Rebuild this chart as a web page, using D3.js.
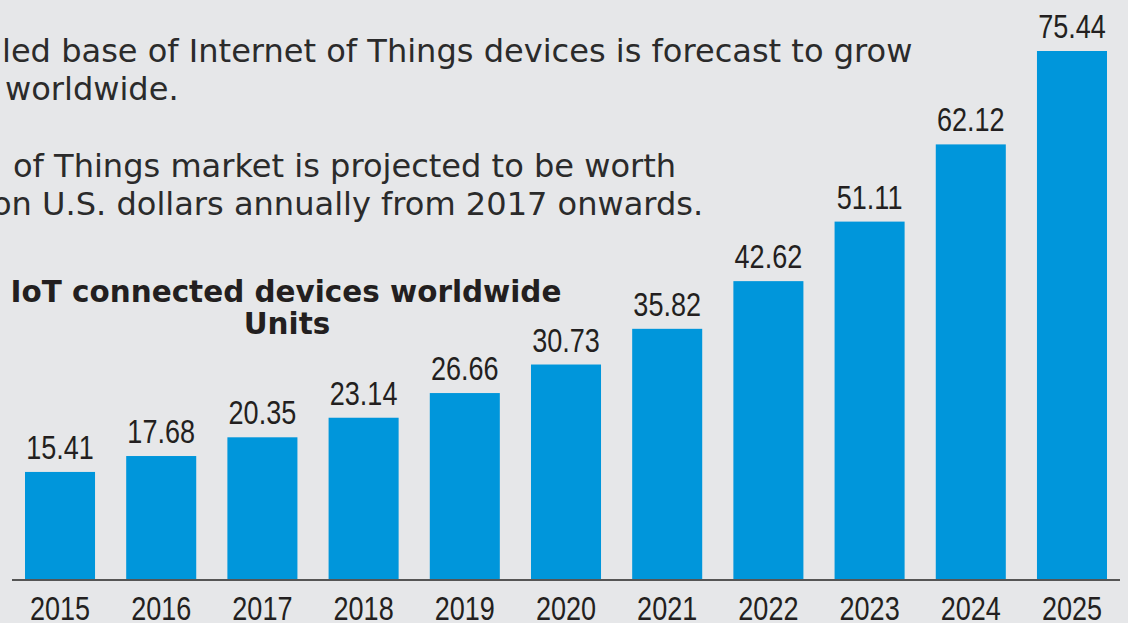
<!DOCTYPE html>
<html><head><meta charset="utf-8">
<script src="https://cdn.jsdelivr.net/npm/d3@7"></script>
<style>
html,body{margin:0;padding:0;background:#e6e7e9;overflow:hidden}
svg{display:block}
</style></head>
<body>
<svg id="c" width="1128" height="623"></svg>
<script>
const years = ["2015","2016","2017","2018","2019","2020","2021","2022","2023","2024","2025"];
const units = [15.41,17.68,20.35,23.14,26.66,30.73,35.82,42.62,51.11,62.12,75.44];
const bodyLines = [
  "led base of Internet of Things devices is forecast to grow",
  "worldwide.",
  "of Things market is projected to be worth",
  "on U.S. dollars annually from 2017 onwards."
];
const titleLines = ["IoT connected devices worldwide","Units"];

const svg = d3.select("#c");
svg.append("rect").attr("width",1128).attr("height",623).attr("fill","#e6e7e9");

const x = d3.scaleBand().domain(years).range([25,1107]).paddingInner(0.308).paddingOuter(0);
const y = d3.scaleLinear().domain([0,75.44]).range([580,51]);

const narrow = "'Liberation Sans',Arial,sans-serif";
const squeeze = 0.82;

// body text
const bodyPos = [[2,62],[5,100],[13,177],[-8,215]];
const body = svg.append("g").attr("font-family","'DejaVu Sans',Verdana,sans-serif").attr("fill","#2b2b2b");
const t0 = body.append("text").attr("font-size",28).text(bodyLines[0]);
const w0 = t0.node().getComputedTextLength();
const bodySize = 28*911/w0;
t0.remove();
bodyLines.forEach((s,i)=>{
  body.append("text").attr("x",bodyPos[i][0]).attr("y",bodyPos[i][1])
    .attr("font-size",bodySize).text(s);
});

// title
const tg = svg.append("g").attr("font-family","'DejaVu Sans',Verdana,sans-serif")
  .attr("font-weight","bold").attr("fill","#231f20").attr("text-anchor","middle");
const tt = tg.append("text").attr("font-size",26).text(titleLines[0]);
const tw = tt.node().getComputedTextLength();
const titleSize = 26*551/tw;
tt.remove();
tg.append("text").attr("x",286).attr("y",302).attr("font-size",titleSize).text(titleLines[0]);
tg.append("text").attr("x",287).attr("y",334).attr("font-size",titleSize).text(titleLines[1]);

// bars
svg.append("g").selectAll("rect").data(years).join("rect")
  .attr("x",d=>x(d)).attr("width",x.bandwidth())
  .attr("y",(d,i)=>y(units[i])).attr("height",(d,i)=>y(0)-y(units[i]))
  .attr("fill","#0096db");

// value labels (condensed)
const vl = svg.append("g").attr("font-family",narrow).attr("font-size",33).attr("fill","#231f20").attr("text-anchor","middle");
vl.selectAll("text").data(years).join("text")
  .attr("transform",(d,i)=>`translate(${x(d)+x.bandwidth()/2},${y(units[i])-13}) scale(${squeeze},1)`)
  .text((d,i)=>units[i].toFixed(2));

// axis
const ax = svg.append("g").attr("transform","translate(0,580)")
  .call(d3.axisBottom(x).tickSize(0));
ax.select(".domain").remove();
ax.selectAll("text").attr("font-family",narrow).attr("font-size",33).attr("fill","#231f20")
  .attr("dy","0").attr("y",null).attr("transform",`translate(0,40) scale(${squeeze},1)`);
svg.append("line").attr("x1",12).attr("x2",1120).attr("y1",580).attr("y2",580).attr("stroke","#555").attr("stroke-width",2);
</script>
</body></html>
